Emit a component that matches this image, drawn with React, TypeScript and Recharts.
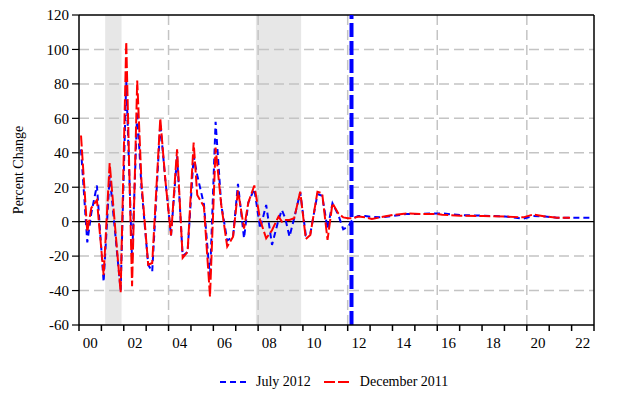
import React from 'react';
import { LineChart, Line, XAxis, YAxis, ReferenceLine, ReferenceArea } from 'recharts';

// decimal years of each observation
const dates = [
  2000.09, 2000.37, 2000.55, 2000.80, 2001.10, 2001.37, 2001.86, 2002.11, 2002.37, 2002.60,
  2002.79, 2003.09, 2003.27, 2003.63, 2003.85, 2004.11, 2004.38, 2004.63, 2004.85, 2005.12,
  2005.28, 2005.58, 2005.85, 2006.10, 2006.35, 2006.62, 2006.88, 2007.10, 2007.37, 2007.56,
  2007.83, 2008.09, 2008.36, 2008.62, 2008.91, 2009.06, 2009.21, 2009.40, 2009.61, 2009.88,
  2010.13, 2010.33, 2010.65, 2010.86, 2011.10, 2011.32, 2011.58, 2011.80, 2012.02, 2012.25,
  2012.47, 2012.78, 2013.08, 2013.45, 2014.03, 2014.64, 2015.24, 2015.98, 2016.22, 2017.02,
  2018.05, 2019.03, 2019.84, 2020.29, 2020.82, 2021.34, 2021.93, 2022.90,
];

const july2012 = [
  42, -12, 5, 21, -35, 27, -40, 82, -22, 64,
  20, -25, -29, 57, 25, -8, 38, -20, -17.5, 38,
  27, 10, -33, 58, 10, -11, -8.7, 22, -9.6, 11,
  19, -4, 9.7, -13.5, 1, 6.8, 2, -8.7, 2, 17,
  -8, -7, 16, 15, -4, 10.7, 4, -4.4, -2.9, 2,
  3.3, 3.3, 2.8, 2.5, 3.3, 4.5, 4.5, 4.8, 4.8, 3.8,
  3.5, 3, 1.8, 3.3, 3, 2.3, 2.3, 2.3,
];

const december2011 = [
  50, -6, 8, 12.6, -31, 34, -41, 104.5, -37.5, 82,
  23, -25, -24, 60, 25, -8, 42, -21, -17.5, 46,
  15.5, 8.7, -43.5, 43, 10, -14.5, -8.7, 18, -4, 11,
  21, 1, -9.7, -5, 3, 0, 1, 1, 2, 17.4,
  -10, -7.7, 17.4, 16.5, -10.6, 10.7, 4.8, 2.5, 2, 2,
  3, 2.5, 1.6, 2.5, 3.9, 4.8, 4.5, 4.5, 4, 3.5,
  3.3, 3, 2.5, 4.2, 3, 2.3, 2.3, null,
];

const yTicks = [-60, -40, -20, 0, 20, 40, 60, 80, 100, 120];
const yearTicks = [
  2000, 2001, 2002, 2003, 2004, 2005, 2006, 2007, 2008, 2009, 2010, 2011,
  2012, 2013, 2014, 2015, 2016, 2017, 2018, 2019, 2020, 2021, 2022, 2023,
];
const labelTicks = [2000.5, 2002.5, 2004.5, 2006.5, 2008.5, 2010.5, 2012.5, 2014.5, 2016.5, 2018.5, 2020.5, 2022.5];
const gridYears = [2004, 2008, 2012, 2016, 2020];
const recessions = [[2001.17, 2001.9], [2007.9, 2009.92]];
const vintageBreak = 2012.17;

const rows = dates.map((t, i) => ({ t, july: july2012[i], dec: december2011[i] }));

const FONT = '"Liberation Serif", "Times New Roman", serif';
const GRID = '#c4c4c4';

const YearTick = (props: any) => {
  const { x, y, payload } = props;
  const v = payload.value;
  if (Number.isInteger(v)) {
    return <line x1={x} x2={x} y1={y} y2={y + 6} stroke="#000" strokeWidth={1.5} />;
  }
  const label = String(Math.floor(v) % 100).padStart(2, '0');
  return (
    <text x={x} y={y + 23} textAnchor="middle" style={{ fontFamily: FONT }} fontSize={15} fill="#000">
      {label}
    </text>
  );
};

const AxisTitle = (props: any) => {
  const { viewBox } = props;
  const cx = 18;
  const cy = viewBox.y + viewBox.height / 2;
  return (
    <text
      x={cx}
      y={cy}
      transform={`rotate(-90, ${cx}, ${cy})`}
      textAnchor="middle"
      dominantBaseline="central"
      style={{ fontFamily: FONT }}
      fontSize={14}
      fill="#000"
    >
      Percent Change
    </text>
  );
};

const App: React.FC = () => {
  return (
    <div style={{ position: 'absolute', left: 0, top: 0, width: 631, height: 397, background: '#fff', fontFamily: FONT }}>
      <LineChart
        width={631}
        height={397}
        data={rows}
        margin={{ top: 15, right: 0, bottom: 0, left: 0 }}
        style={{ fontFamily: FONT }}
      >
        <XAxis
          dataKey="t"
          type="number"
          domain={[2000, 2023]}
          ticks={[...yearTicks, ...labelTicks]}
          interval={0}
          tickLine={false}
          tickSize={0}
          tickMargin={0}
          tick={<YearTick />}
          height={72}
          axisLine={{ stroke: '#000', strokeWidth: 1.5 }}
          allowDataOverflow
        />
        <YAxis
          yAxisId="left"
          domain={[-60, 120]}
          ticks={yTicks}
          interval={0}
          width={79}
          tickSize={7}
          tickMargin={3}
          tickLine={{ stroke: '#000', strokeWidth: 1.2 }}
          axisLine={{ stroke: '#000', strokeWidth: 1.5 }}
          tick={{ fill: '#000', fontFamily: FONT, fontSize: 15, style: { fontFamily: FONT } }}
          label={{ content: <AxisTitle /> }}
        />
        <YAxis
          yAxisId="right"
          orientation="right"
          domain={[-60, 120]}
          ticks={yTicks}
          interval={0}
          width={37}
          tickSize={6}
          tickMargin={5}
          tickLine={{ stroke: '#000', strokeWidth: 1.2 }}
          axisLine={{ stroke: '#000', strokeWidth: 1.5 }}
          tick={{ fill: '#000', fontFamily: FONT, fontSize: 15, textAnchor: 'start', style: { fontFamily: FONT } }}
        />
        {recessions.map(([a, b], i) => (
          <ReferenceArea
            key={`rec-${i}`}
            yAxisId="left"
            x1={a}
            x2={b}
            fill="#9a9a9a"
            fillOpacity={0.24}
            stroke="none"
          />
        ))}
        {yTicks
          .filter((v) => v !== 0 && v !== -60 && v !== 120)
          .map((v) => (
            <ReferenceLine key={`h-${v}`} yAxisId="left" y={v} stroke={GRID} strokeWidth={1.5} strokeDasharray="10 5" />
          ))}
        {gridYears.map((v) => (
          <ReferenceLine key={`v-${v}`} yAxisId="left" x={v} stroke={GRID} strokeWidth={1.5} strokeDasharray="10 5" />
        ))}
        <ReferenceLine yAxisId="left" y={0} stroke="#000" strokeWidth={1.2} />
        <ReferenceLine yAxisId="left" y={120} stroke="#000" strokeWidth={1.5} />
        <Line
          yAxisId="left"
          dataKey="july"
          stroke="#0000ff"
          strokeWidth={2}
          strokeDasharray="6 4"
          dot={false}
          type="linear"
          isAnimationActive={false}
        />
        <Line
          yAxisId="left"
          dataKey="dec"
          stroke="#ff0000"
          strokeWidth={2}
          strokeDasharray="11 3"
          dot={false}
          type="linear"
          isAnimationActive={false}
        />
        <ReferenceLine yAxisId="left" x={vintageBreak} stroke="#0000ff" strokeWidth={4} strokeDasharray="14 4" />
      </LineChart>
      <div
        style={{
          position: 'absolute',
          left: 220,
          top: 374,
          display: 'flex',
          alignItems: 'center',
          fontFamily: FONT,
          fontSize: 14,
          color: '#000',
          whiteSpace: 'nowrap',
        }}
      >
        <svg width={27} height={10} style={{ marginRight: 9 }}>
          <line x1={0} x2={27} y1={5} y2={5} stroke="#0000ff" strokeWidth={2} strokeDasharray="6 4" />
        </svg>
        <span>July 2012</span>
        <svg width={28} height={10} style={{ marginLeft: 13, marginRight: 8 }}>
          <line x1={0} x2={28} y1={5} y2={5} stroke="#ff0000" strokeWidth={2} strokeDasharray="11 3" />
        </svg>
        <span>December 2011</span>
      </div>
    </div>
  );
};

export default App;
